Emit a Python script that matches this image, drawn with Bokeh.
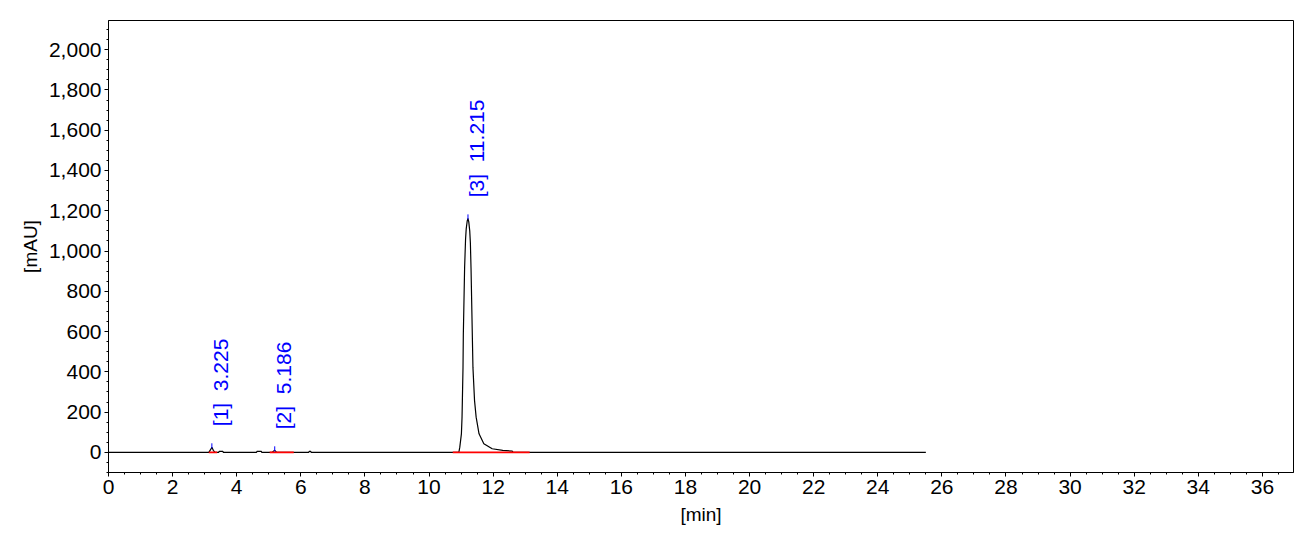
from math import pi
from bokeh.plotting import figure
from bokeh.models import Range1d, SingleIntervalTicker, NumeralTickFormatter, ColumnDataSource
from bokeh.core.properties import value
from bokeh.embed import file_html
from bokeh.resources import INLINE

# chromatogram trace: time [min], signal [mAU]
trace_time = [0.0, 3.13, 3.18, 3.225, 3.27, 3.32, 3.44, 3.45, 3.57, 3.58,
              4.62, 4.63, 4.77, 4.78, 5.10, 5.186, 5.25, 6.25, 6.26, 6.31, 6.32,
              10.93, 10.96, 11.01, 11.03, 11.04, 11.06, 11.07, 11.09, 11.11, 11.14,
              11.16, 11.19, 11.215, 11.24, 11.27, 11.29, 11.31, 11.33, 11.35, 11.37,
              11.42, 11.47, 11.56, 11.71, 11.97, 12.30, 12.60, 12.62, 25.5]
trace_signal = [0, 0, 12, 25, 10, 0, 0, 5, 5, 0,
                0, 5, 5, 0, 0, 10, 0, 0, 5, 5, 0,
                0, 26, 92, 175, 257, 422, 587, 752, 917, 1060,
                1110, 1148, 1162, 1145, 1100, 1040, 917, 752, 587, 422,
                257, 175, 92, 43, 18, 10, 6, 0, 0]

# integrated peaks
peak_no = ["1", "2", "3"]
peak_rt = [3.225, 5.186, 11.215]
peak_height = [25, 10, 1162]
peak_start = [3.13, 5.03, 10.74]
peak_end = [3.39, 5.78, 13.14]

FONT = "Liberation Sans"
SP = "\u00a0\u00a0"

p = figure(frame_width=1185, frame_height=452,
           min_border_left=108, min_border_top=20, min_border_right=15, min_border_bottom=50,
           output_backend="svg", toolbar_location=None,
           x_range=Range1d(0, 36.97), y_range=Range1d(-100, 2145))
p.grid.visible = False
p.outline_line_color = "black"
p.outline_line_alpha = 1
p.outline_line_width = 1
p.background_fill_color = "white"
p.border_fill_color = "white"

# trace
p.line(trace_time, trace_signal, line_color="black", line_width=1.2)

# baselines of integrated peaks
p.segment(x0=peak_start, y0=[0] * 3, x1=peak_end, y1=[0] * 3,
          line_color="red", line_width=1.6)

# apex markers
p.segment(x0=peak_rt, y0=[h - 5 for h in peak_height], x1=peak_rt,
          y1=[h + 20 for h in peak_height], line_color="blue", line_width=1)

# peak labels
labels = ColumnDataSource(dict(
    x=peak_rt,
    y=[h + 105 for h in peak_height],
    t=["[%s]%s%.3f" % (n, SP, rt) for n, rt in zip(peak_no, peak_rt)],
))
p.text(x="x", y="y", text="t", source=labels, angle=pi / 2,
       text_align="left", text_baseline="top", text_color="blue",
       text_font=value(FONT), text_font_size="21px", x_offset=-3)

# axes
p.xaxis.ticker = SingleIntervalTicker(interval=2, num_minor_ticks=4)
p.yaxis.ticker = SingleIntervalTicker(interval=200, num_minor_ticks=4)
p.yaxis.formatter = NumeralTickFormatter(format="0,0")
p.xaxis.axis_label = "[min]"
p.yaxis.axis_label = "[mAU]"
for ax in (p.xaxis, p.yaxis):
    ax.axis_line_color = "black"
    ax.major_tick_line_color = "black"
    ax.minor_tick_line_color = "black"
    ax.major_tick_in = 0
    ax.major_tick_out = 4
    ax.minor_tick_in = 0
    ax.minor_tick_out = 2
    ax.major_label_text_font = FONT
    ax.major_label_text_font_size = "21px"
    ax.major_label_text_color = "black"
    ax.axis_label_text_font = FONT
    ax.axis_label_text_font_size = "19px"
    ax.axis_label_text_font_style = "normal"
    ax.axis_label_text_color = "black"
    ax.major_label_standoff = 3
p.xaxis.axis_label_standoff = 7
p.yaxis.axis_label_standoff = 5

open("out.html", "w").write(file_html(p, INLINE))
